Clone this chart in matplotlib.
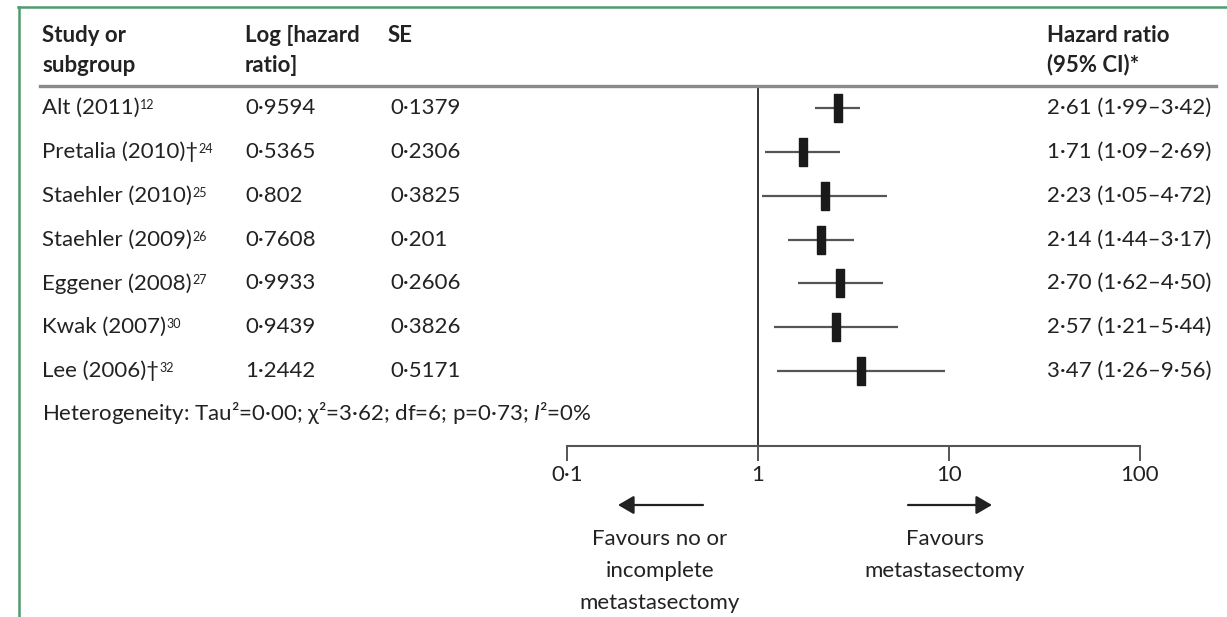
"""Forest plot: metastasectomy vs no or incomplete metastasectomy."""

import matplotlib.pyplot as plt
from matplotlib import transforms as mtransforms
from matplotlib.lines import Line2D

W, H = 1227, 617

studies = [
    "Alt (2011)",
    "Pretalia (2010)\u2020",
    "Staehler (2010)",
    "Staehler (2009)",
    "Eggener (2008)",
    "Kwak (2007)",
    "Lee (2006)\u2020",
]
refs = ["12", "24", "25", "26", "27", "30", "32"]
log_hr = [0.9594, 0.5365, 0.802, 0.7608, 0.9933, 0.9439, 1.2442]
se = [0.1379, 0.2306, 0.3825, 0.201, 0.2606, 0.3826, 0.5171]
hr = [2.61, 1.71, 2.23, 2.14, 2.70, 2.57, 3.47]
ci_lo = [1.99, 1.09, 1.05, 1.44, 1.62, 1.21, 1.26]
ci_hi = [3.42, 2.69, 4.72, 3.17, 4.50, 5.44, 9.56]
x_ticks = [0.1, 1, 10, 100]
x_tick_labels = ["0\u00b71", "1", "10", "100"]
heterogeneity = ("Heterogeneity: Tau\u00b2=0\u00b700; \u03c7\u00b2=3\u00b762; "
                 "df=6; p=0\u00b773; $\\mathit{I}$\u00b2=0%")

FONT = ["Lato", "DejaVu Sans"]
TXT = "#222222"
FS = 16

plt.rcParams["font.family"] = FONT
plt.rcParams["mathtext.fontset"] = "custom"
plt.rcParams["mathtext.it"] = "Lato:italic"
plt.rcParams["mathtext.rm"] = "Lato"


def dot(value, digits=None):
    text = f"{value:.{digits}f}" if digits is not None else str(value)
    return text.replace(".", "\u00b7")


def fx(px):
    return px / W


def fy(py):
    return 1 - py / H


fig = plt.figure(figsize=(W / 100, H / 100), dpi=100)
ax = fig.add_axes([fx(567), fy(446), fx(1140) - fx(567), fy(88) - fy(446)])

rows = list(range(len(studies)))
ax.set_xscale("log")
ax.set_xlim(0.1, 100)
ax.set_ylim(7.71, -0.456)

ax.axvline(1, color="#111111", lw=1.2, zorder=1)
ax.hlines(rows, ci_lo, ci_hi, color="#555555", lw=1.6, zorder=2)
box = [(-4, -14), (4, -14), (4, 14), (-4, 14), (-4, -14)]
ax.plot(hr, rows, ls="none", marker=box, ms=20, color="#1a1a1a", zorder=3)

for side in ("top", "left", "right"):
    ax.spines[side].set_visible(False)
ax.spines["bottom"].set_color("#555555")
ax.spines["bottom"].set_linewidth(1.5)
ax.set_yticks([])
ax.set_xticks(x_ticks)
ax.set_xticklabels(x_tick_labels)
ax.xaxis.set_minor_locator(plt.NullLocator())
ax.tick_params(axis="x", direction="out", length=11, width=1.4, color="#555555",
               pad=3, labelsize=FS, labelcolor=TXT)
ax.patch.set_visible(False)

# rows of text share the forest y scale
row_tf = mtransforms.blended_transform_factory(fig.transFigure, ax.transData)
for i, name in enumerate(studies):
    t = ax.text(fx(42), i, name, transform=row_tf, fontsize=FS, color=TXT,
                va="center", ha="left")
    ax.annotate(refs[i], xy=(1, 0.95), xycoords=t, xytext=(0.3, 0),
                textcoords="offset points", fontsize=9, color=TXT,
                va="top", ha="left")
    ax.text(fx(245), i, dot(log_hr[i]), transform=row_tf, fontsize=FS,
            color=TXT, va="center", ha="left")
    ax.text(fx(390), i, dot(se[i]), transform=row_tf, fontsize=FS,
            color=TXT, va="center", ha="left")
    ax.text(fx(1047), i,
            f"{dot(hr[i], 2)} ({dot(ci_lo[i], 2)}\u2013{dot(ci_hi[i], 2)})",
            transform=row_tf, fontsize=FS, color=TXT, va="center", ha="left")

ax.text(fx(42), 6.95, heterogeneity, transform=row_tf, fontsize=FS,
        color=TXT, va="center", ha="left")

# header
headers = [
    (42, ["Study or", "subgroup"]),
    (245, ["Log [hazard", "ratio]"]),
    (388, ["SE"]),
    (1047, ["Hazard ratio", "(95% CI)*"]),
]
for x, lines in headers:
    for k, line in enumerate(lines):
        fig.text(fx(x), fy(35 + 30 * k), line, fontsize=FS, fontweight="bold",
                 color=TXT, va="center", ha="left")

fig.add_artist(Line2D([fx(40), fx(1216)], [fy(86), fy(86)],
                      color="#8a8a8a", lw=2.4))

# green frame
green = "#4e9c6f"
fig.add_artist(Line2D([fx(18), fx(W)], [fy(7), fy(7)], color=green, lw=1.8))
fig.add_artist(Line2D([fx(19), fx(19)], [fy(7), fy(H)], color=green, lw=1.8))

# favours arrows and captions
arrow = dict(arrowstyle="-|>,head_length=0.6,head_width=0.35", color="#222222",
             lw=1.6, mutation_scale=16, shrinkA=0, shrinkB=0)
ax.annotate("", xy=(fx(618), fy(505)), xytext=(fx(703), fy(505)),
            xycoords="figure fraction", arrowprops=arrow)
ax.annotate("", xy=(fx(992), fy(505)), xytext=(fx(908), fy(505)),
            xycoords="figure fraction", arrowprops=arrow)

for k, line in enumerate(["Favours no or", "incomplete", "metastasectomy"]):
    fig.text(fx(660), fy(539 + 32 * k), line, fontsize=FS, color=TXT,
             ha="center", va="center")
for k, line in enumerate(["Favours", "metastasectomy"]):
    fig.text(fx(945), fy(539 + 32 * k), line, fontsize=FS, color=TXT,
             ha="center", va="center")

fig.savefig("out.png", dpi=100, facecolor="white")
